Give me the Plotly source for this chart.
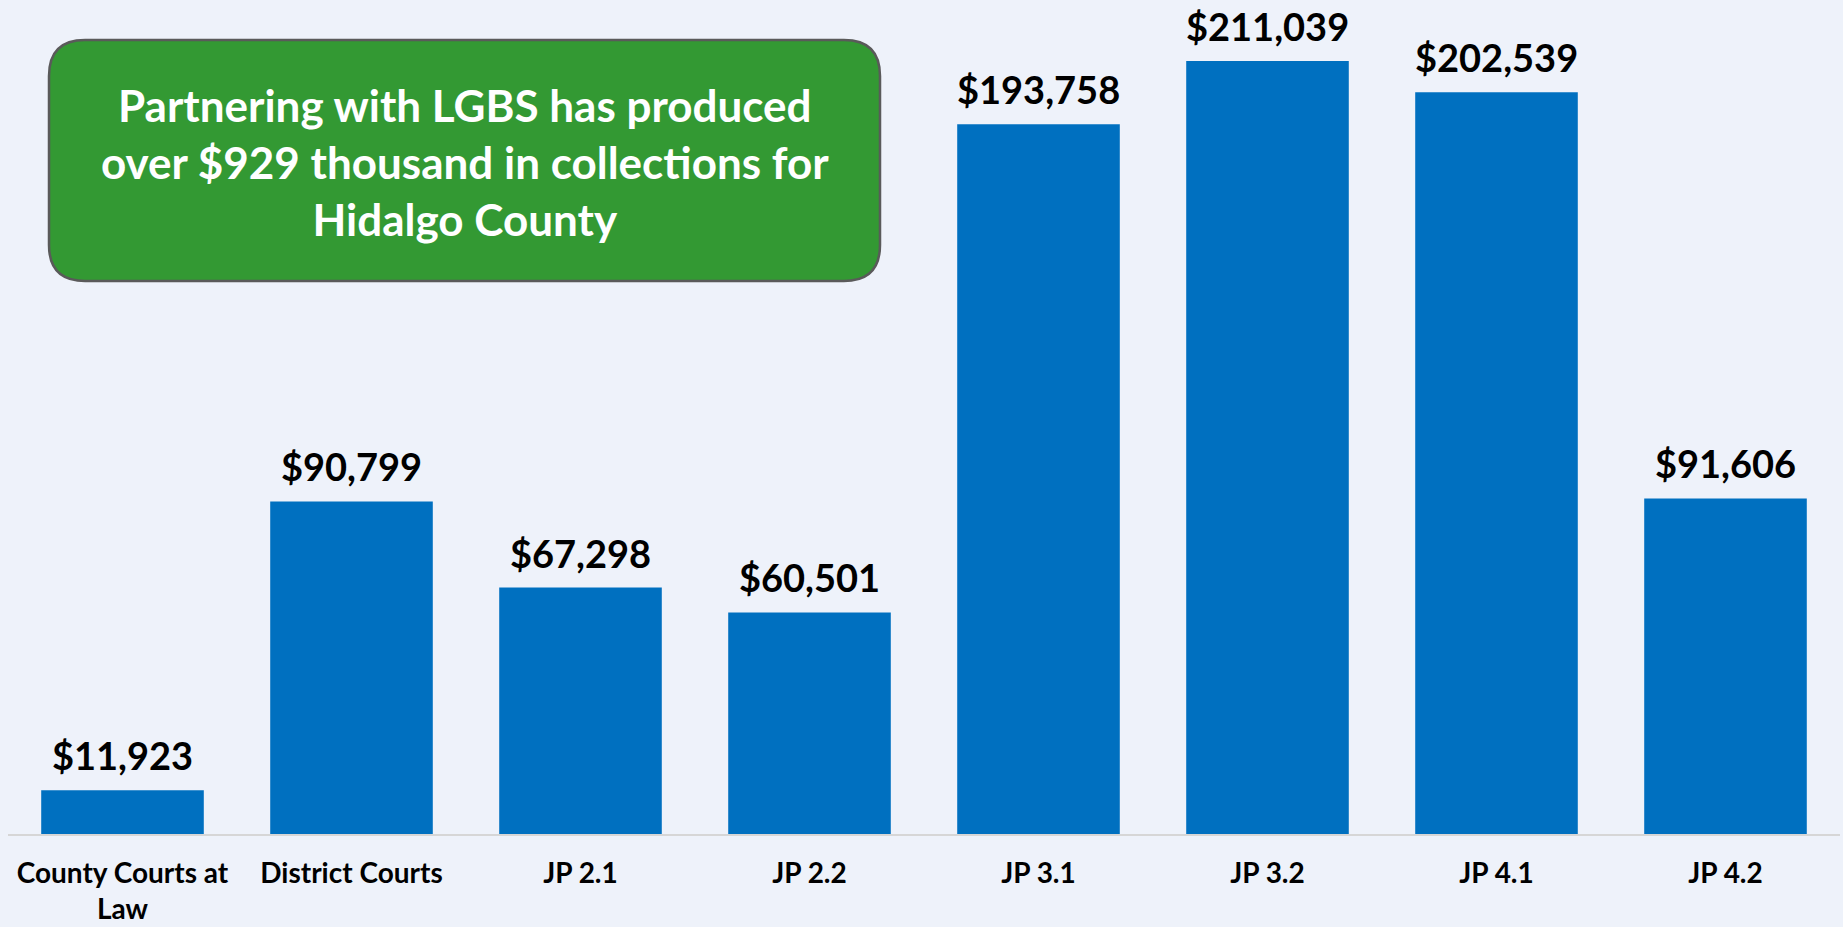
import plotly.graph_objects as go

categories = ["County Courts at<br>Law", "District Courts", "JP 2.1", "JP 2.2",
              "JP 3.1", "JP 3.2", "JP 4.1", "JP 4.2"]
values = [11923, 90799, 67298, 60501, 193758, 211039, 202539, 91606]
value_labels = ["$11,923", "$90,799", "$67,298", "$60,501",
                "$193,758", "$211,039", "$202,539", "$91,606"]
callout_text = "Partnering with LGBS has produced<br>over $929 thousand in collections for<br>Hidalgo County"

W, H = 1843, 927
ML, MR, MT, MB = 8, 3, 0, 93
PW, PH = W - ML - MR, H - MT - MB

FONT = "Lato"
BG = "#EEF2FA"
BAR = "#0070C0"

fig = go.Figure()
fig.add_trace(go.Bar(
    x=categories, y=values, marker=dict(color=BAR, line=dict(width=0)),
    hoverinfo="skip",
))

for c, v, t in zip(categories, values, value_labels):
    fig.add_annotation(x=c, y=v, text="<b>" + t + "</b>", showarrow=False,
                       yanchor="bottom", yshift=10,
                       font=dict(family=FONT, size=38, color="#000000"))

def px(x):
    return (x - ML) / PW

def py(y):
    return (MT + PH - y) / PH

# rounded callout box
x0, x1, y0, y1, r = 49, 880, 40, 281, 36
path = (f"M {px(x0 + r)},{py(y0)} L {px(x1 - r)},{py(y0)} "
        f"Q {px(x1)},{py(y0)} {px(x1)},{py(y0 + r)} "
        f"L {px(x1)},{py(y1 - r)} Q {px(x1)},{py(y1)} {px(x1 - r)},{py(y1)} "
        f"L {px(x0 + r)},{py(y1)} Q {px(x0)},{py(y1)} {px(x0)},{py(y1 - r)} "
        f"L {px(x0)},{py(y0 + r)} Q {px(x0)},{py(y0)} {px(x0 + r)},{py(y0)} Z")
fig.add_shape(type="path", xref="paper", yref="paper", path=path,
              fillcolor="#339933", line=dict(color="#5A5A5A", width=2.5), layer="above")
fig.add_annotation(xref="paper", yref="paper", x=px((x0 + x1) / 2), y=py(162),
                   text="<b>" + callout_text + "</b>", showarrow=False,
                   xanchor="center", yanchor="middle", align="center",
                   font=dict(family=FONT, size=44, color="#FFFFFF"))

fig.update_layout(
    width=W, height=H,
    margin=dict(l=ML, r=MR, t=MT, b=MB, autoexpand=False),
    paper_bgcolor=BG, plot_bgcolor=BG,
    bargap=0.29, showlegend=False,
    xaxis=dict(showgrid=False, showline=True, linecolor="#D6D6D6", linewidth=2,
               ticks="", tickfont=dict(family=FONT, size=28, color="#000000"),
               ticklabelstandoff=13, automargin=False,
               range=[-0.5, 7.5], fixedrange=True),
    yaxis=dict(visible=False, range=[0, 227700], showgrid=False, zeroline=False,
               automargin=False),
    font=dict(family=FONT),
)
fig.update_xaxes(tickprefix="<b>", ticksuffix="</b>")

fig.write_html("out.html", config={"displayModeBar": False},
               post_script="document.body.style.margin='0';document.body.style.overflow='hidden';")
